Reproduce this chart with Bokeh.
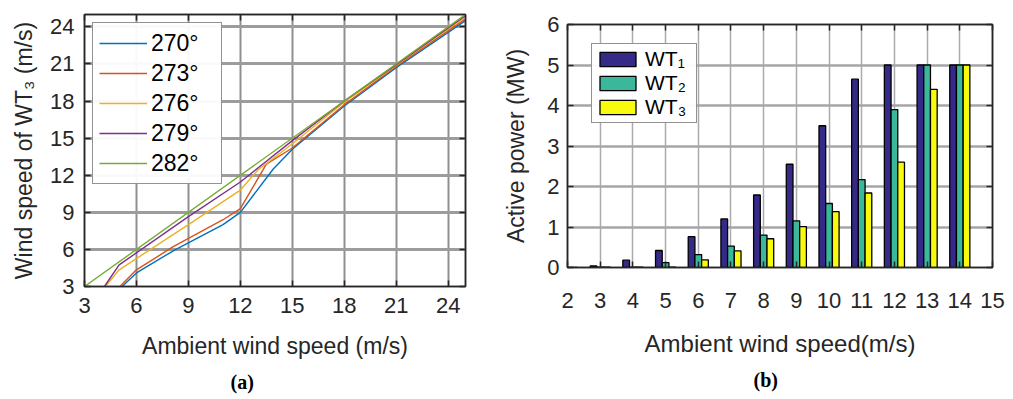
from jinja2 import Template
from bokeh.plotting import figure
from bokeh.models import (FixedTicker, LinearAxis, Legend, LegendItem, Title,
                          ColumnDataSource)
from bokeh.transform import dodge
from bokeh.embed import file_html
from bokeh.resources import INLINE

# ---------------- data: (a) wind speed of WT3 vs ambient wind speed ----------
x_270 = [5.17, 6.0, 8.2, 11.0, 12.0, 13.9, 15.0, 18.0, 21.0, 25.0]
y_270 = [3.0, 4.1, 5.95, 8.0, 9.0, 12.5, 14.1, 17.6, 20.7, 24.5]
x_273 = [5.04, 6.0, 8.1, 11.0, 12.0, 13.5, 15.0, 18.0, 21.0, 25.0]
y_273 = [3.0, 4.35, 6.2, 8.4, 9.3, 12.9, 14.2, 17.7, 20.8, 24.65]
x_276 = [4.2, 5.0, 9.0, 12.0, 13.0, 15.0, 18.0, 21.0, 25.0]
y_276 = [3.0, 4.35, 8.0, 10.8, 12.4, 14.55, 17.9, 20.9, 24.8]
x_279 = [4.15, 5.0, 9.0, 12.0, 15.0, 18.0, 21.0, 25.0]
y_279 = [3.0, 4.75, 8.65, 11.45, 14.8, 18.0, 20.95, 24.9]
x_282 = [3.0, 25.0]
y_282 = [3.0, 25.0]
series_labels = ["270°", "273°", "276°", "279°", "282°"]
line_colors = ["#0072BD", "#D95319", "#EDB120", "#7E2F8E", "#77AC30"]
ticks_a = [3, 6, 9, 12, 15, 18, 21, 24]

# ---------------- data: (b) active power per turbine -------------------------
speeds = [2, 3, 4, 5, 6, 7, 8, 9, 10, 11, 12, 13, 14]
wt1 = [0.01, 0.04, 0.18, 0.42, 0.76, 1.20, 1.79, 2.55, 3.50, 4.65, 5.00, 5.00, 5.00]
wt2 = [0.00, 0.01, 0.01, 0.12, 0.32, 0.53, 0.80, 1.15, 1.58, 2.17, 3.90, 5.00, 5.00]
wt3 = [0.00, 0.01, 0.01, 0.01, 0.19, 0.41, 0.71, 1.01, 1.38, 1.84, 2.60, 4.40, 5.00]
bar_labels = ["WT₁", "WT₂", "WT₃"]
bar_colors = ["#352a87", "#3bb89b", "#f9fb0e"]
ticks_bx = list(range(2, 16))
ticks_by = [0, 1, 2, 3, 4, 5, 6]

FONT = "Liberation Sans"
AX = "#262626"


def style_axis(ax, ticks, font_px, standoff):
    ax.ticker = FixedTicker(ticks=ticks)
    ax.major_tick_in = 6
    ax.major_tick_out = 0
    ax.minor_tick_line_color = None
    ax.axis_line_color = AX
    ax.axis_line_width = 1.5
    ax.major_tick_line_color = AX
    ax.major_tick_line_width = 1.5
    ax.major_label_text_font = FONT
    ax.major_label_text_font_size = font_px
    ax.major_label_text_color = AX
    ax.major_label_standoff = standoff
    ax.axis_label_text_font = FONT
    ax.axis_label_text_font_style = "normal"
    ax.axis_label_text_color = AX


def box_axis(p, ticks, side):
    ax = LinearAxis(ticker=FixedTicker(ticks=ticks))
    ax.major_tick_in = 6
    ax.major_tick_out = 0
    ax.minor_tick_line_color = None
    ax.axis_line_color = AX
    ax.axis_line_width = 1.5
    ax.major_tick_line_color = AX
    ax.major_tick_line_width = 1.5
    ax.major_label_overrides = {t: "" for t in ticks}
    ax.major_label_text_font_size = "0px"
    ax.major_label_standoff = 0
    p.add_layout(ax, side)


def caption(p, text, offset, standoff):
    t = Title(text=text, align="left", offset=offset, standoff=standoff,
              text_font="Liberation Serif", text_font_style="bold",
              text_font_size="20px", text_color="black")
    p.add_layout(t, "below")


# ============================ figure (a) =====================================
p1 = figure(width=500, height=399, x_range=(3, 25), y_range=(3, 25),
            output_backend="svg", toolbar_location=None,
            min_border_left=84, min_border_right=35,
            min_border_top=14, min_border_bottom=112)
p1.outline_line_color = AX
p1.outline_line_width = 1.5

style_axis(p1.xaxis[0], ticks_a, "22px", 11)
style_axis(p1.yaxis[0], ticks_a, "22px", 10)
p1.xaxis[0].axis_label = "Ambient wind speed (m/s)"
p1.yaxis[0].axis_label = "Wind speed of WT₃ (m/s)"
p1.xaxis[0].axis_label_text_font_size = "23px"
p1.yaxis[0].axis_label_text_font_size = "23px"
p1.xaxis[0].axis_label_standoff = 17
p1.yaxis[0].axis_label_standoff = 10
box_axis(p1, ticks_a, "above")
box_axis(p1, ticks_a, "right")

p1.xgrid.ticker = FixedTicker(ticks=ticks_a)
p1.ygrid.ticker = FixedTicker(ticks=ticks_a)
p1.xgrid.grid_line_color = "#8f8f8f"
p1.xgrid.grid_line_width = 2
p1.ygrid.grid_line_color = "#9c9c9c"
p1.ygrid.grid_line_width = 3

xs_all = [x_270, x_273, x_276, x_279, x_282]
ys_all = [y_270, y_273, y_276, y_279, y_282]
items_a = []
for xs, ys, lab, col in zip(xs_all, ys_all, series_labels, line_colors):
    r = p1.line(xs, ys, line_color=col, line_width=1.4)
    items_a.append(LegendItem(label=lab, renderers=[r]))

leg_a = Legend(items=items_a, location=(8, 102))
leg_a.label_text_font = FONT
leg_a.label_text_font_size = "23px"
leg_a.label_text_color = "black"
leg_a.glyph_width = 48
leg_a.glyph_height = 28
leg_a.label_height = 28
leg_a.label_width = 64
leg_a.label_standoff = 4
leg_a.spacing = 2
leg_a.padding = 6
leg_a.margin = 0
leg_a.border_line_color = AX
leg_a.border_line_width = 1.5
p1.add_layout(leg_a, "center")

caption(p1, "(a)", 146, 14)

# ============================ figure (b) =====================================
src = ColumnDataSource(dict(x=speeds, wt1=wt1, wt2=wt2, wt3=wt3))
p2 = figure(width=513, height=399, x_range=(2, 15), y_range=(0, 6),
            output_backend="svg", toolbar_location=None,
            min_border_left=62, min_border_right=21,
            min_border_top=24, min_border_bottom=132)
p2.outline_line_color = AX
p2.outline_line_width = 1.5

style_axis(p2.xaxis[0], ticks_bx, "22px", 25)
style_axis(p2.yaxis[0], ticks_by, "22px", 8)
p2.xaxis[0].axis_label = "Ambient wind speed(m/s)"
p2.yaxis[0].axis_label = "Active power (MW)"
p2.xaxis[0].axis_label_text_font_size = "24px"
p2.yaxis[0].axis_label_text_font_size = "23px"
p2.xaxis[0].axis_label_standoff = 19
p2.yaxis[0].axis_label_standoff = 15
box_axis(p2, ticks_bx, "above")
box_axis(p2, ticks_by, "right")

p2.xgrid.ticker = FixedTicker(ticks=ticks_bx)
p2.ygrid.ticker = FixedTicker(ticks=ticks_by)
p2.xgrid.grid_line_color = "#ababab"
p2.xgrid.grid_line_width = 1.5
p2.ygrid.grid_line_color = "#a6a6a6"
p2.ygrid.grid_line_width = 2.5

bw = 0.205
items_b = []
for col_name, off, lab, col in zip(["wt1", "wt2", "wt3"], [-bw, 0.0, bw],
                                   bar_labels, bar_colors):
    r = p2.vbar(x=dodge("x", off, range=p2.x_range), top=col_name, width=bw,
                bottom=0, source=src, fill_color=col, line_color="black",
                line_width=1.3)
    items_b.append(LegendItem(label=lab, renderers=[r]))

leg_b = Legend(items=items_b, location=(24, 144))
leg_b.label_text_font = FONT
leg_b.label_text_font_size = "21px"
leg_b.label_text_color = "black"
leg_b.glyph_width = 45
leg_b.glyph_height = 18
leg_b.label_height = 20
leg_b.label_width = 48
leg_b.label_standoff = 5
leg_b.spacing = 0
leg_b.padding = 3
leg_b.margin = 0
leg_b.border_line_color = AX
leg_b.border_line_width = 1.2
p2.add_layout(leg_b, "center")

caption(p2, "(b)", 186, 14)

PAGE = Template("""<!DOCTYPE html>
<html lang="en">
<head>
<meta charset="utf-8">
<title>{{ title }}</title>
<style>html, body { margin: 0; padding: 0; background: white; }
.pair { display: flex; flex-direction: row; align-items: flex-start; }</style>
{{ bokeh_css }}
{{ bokeh_js }}
</head>
<body>
<div class="pair">
{{ plot_div }}
</div>
{{ plot_script }}
</body>
</html>""")

open("out.html", "w").write(file_html([p1, p2], INLINE, template=PAGE))
